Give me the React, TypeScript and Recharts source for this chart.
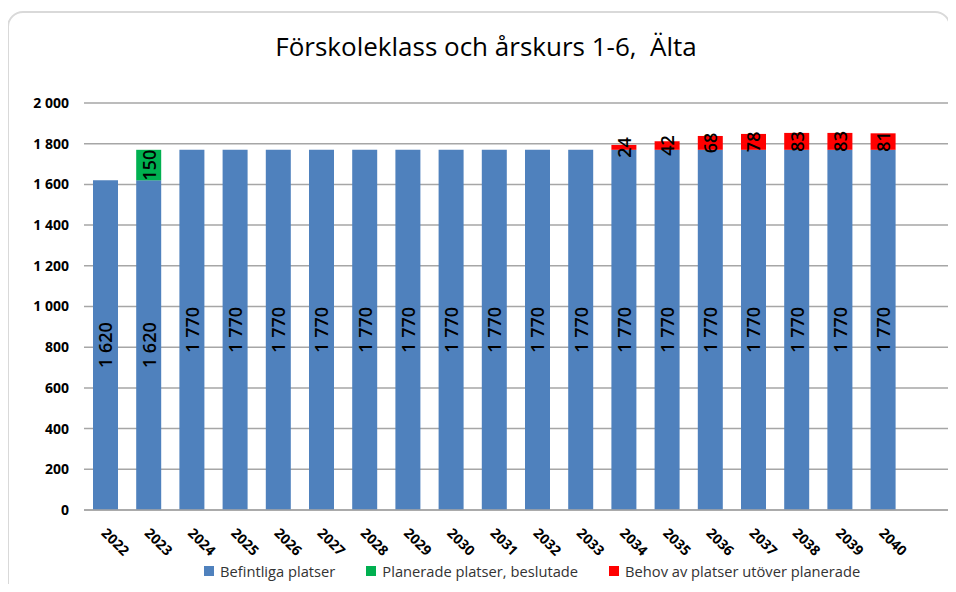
import { Bar, BarChart, CartesianGrid, LabelList, Legend, XAxis, YAxis } from "recharts";

const years = ["2022", "2023", "2024", "2025", "2026", "2027", "2028", "2029", "2030", "2031", "2032", "2033", "2034", "2035", "2036", "2037", "2038", "2039", "2040", ""];
const befintliga = [1620, 1620, 1770, 1770, 1770, 1770, 1770, 1770, 1770, 1770, 1770, 1770, 1770, 1770, 1770, 1770, 1770, 1770, 1770, null];
const planerade = [null, 150, null, null, null, null, null, null, null, null, null, null, null, null, null, null, null, null, null, null];
const behov = [null, null, null, null, null, null, null, null, null, null, null, null, 24, 42, 68, 78, 83, 83, 81, null];
const yTicks = [0, 200, 400, 600, 800, 1000, 1200, 1400, 1600, 1800, 2000];

const series = [
  { key: "befintliga", name: "Befintliga platser", color: "#4F81BD" },
  { key: "planerade", name: "Planerade platser, beslutade", color: "#00B050" },
  { key: "behov", name: "Behov av platser utöver planerade", color: "#FF0000" },
];

const rows = years.map((year, i) => ({ year, befintliga: befintliga[i], planerade: planerade[i], behov: behov[i] }));

const FONT = "'Open Sans', sans-serif";
const fmt = (v: number) => (v >= 1000 ? `${Math.floor(v / 1000)} ${String(v % 1000).padStart(3, "0")}` : String(v));

const SegmentLabel = (props: any) => {
  const { x, y, width, height, value } = props;
  if (value == null || value === 0) return null;
  const cx = x + width / 2;
  const cy = y + height / 2;
  return (
    <text x={cx} y={cy} transform={`rotate(-90 ${cx} ${cy})`} textAnchor="middle" dominantBaseline="central" fontFamily={FONT} fontSize={18} fontWeight={600} fill="#000">
      {fmt(value)}
    </text>
  );
};

const YearTick = (props: any) => {
  const { x, y, payload } = props;
  const ox = x - 5;
  const oy = y + 24;
  return (
    <text x={ox} y={oy} transform={`rotate(45 ${ox} ${oy})`} textAnchor="start" fontFamily={FONT} fontSize={14} fontWeight={700} fill="#000">
      {payload.value}
    </text>
  );
};

const LegendContent = () => (
  <div style={{ display: "flex", gap: 31, fontFamily: FONT, fontSize: 14.7, color: "#333", whiteSpace: "nowrap" }}>
    {series.map((s) => (
      <div key={s.key} style={{ display: "flex", alignItems: "center" }}>
        <span style={{ width: 10, height: 10, background: s.color, marginRight: 6, display: "inline-block" }} />
        {s.name}
      </div>
    ))}
  </div>
);

export default function App() {
  return (
    <div style={{ position: "relative", width: 956, height: 592, margin: -8, overflow: "hidden", background: "#fff" }}>
      <div style={{ position: "absolute", left: 7, top: 11, width: 944, height: 620, border: "2px solid #d9d9d9", borderRadius: 16, boxSizing: "border-box" }} />
      <div style={{ position: "absolute", left: 0, width: 972, top: 28, textAlign: "center", fontFamily: FONT, fontSize: 26, color: "#000", whiteSpace: "pre" }}>
        Förskoleklass och årskurs 1-6,  Älta
      </div>
      <div style={{ position: "absolute", left: 0, top: 0 }}>
        <BarChart width={956} height={592} data={rows} margin={{ top: 103, right: 8, bottom: 22, left: 0 }} barSize={25}>
          <CartesianGrid vertical={false} stroke="#a6a6a6" strokeWidth={1.5} />
          <XAxis dataKey="year" height={60} tickLine={false} tickSize={0} tickMargin={0} interval={0} stroke="#a6a6a6" strokeWidth={1.5} tick={<YearTick />} />
          <YAxis width={84} domain={[0, 2000]} ticks={yTicks} axisLine={false} tickLine={false} tickSize={13} tickFormatter={fmt} tick={{ fontFamily: FONT, fontSize: 14, fontWeight: 700, fill: "#000" }} />
          <Legend layout="horizontal" verticalAlign="middle" align="center" wrapperStyle={{ position: "absolute", top: 561, left: 204, width: "auto" }} content={<LegendContent />} />
          {series.map((s) => (
            <Bar key={s.key} dataKey={s.key} name={s.name} stackId="a" fill={s.color} isAnimationActive={false}>
              <LabelList dataKey={s.key} content={<SegmentLabel />} />
            </Bar>
          ))}
        </BarChart>
      </div>
    </div>
  );
}
